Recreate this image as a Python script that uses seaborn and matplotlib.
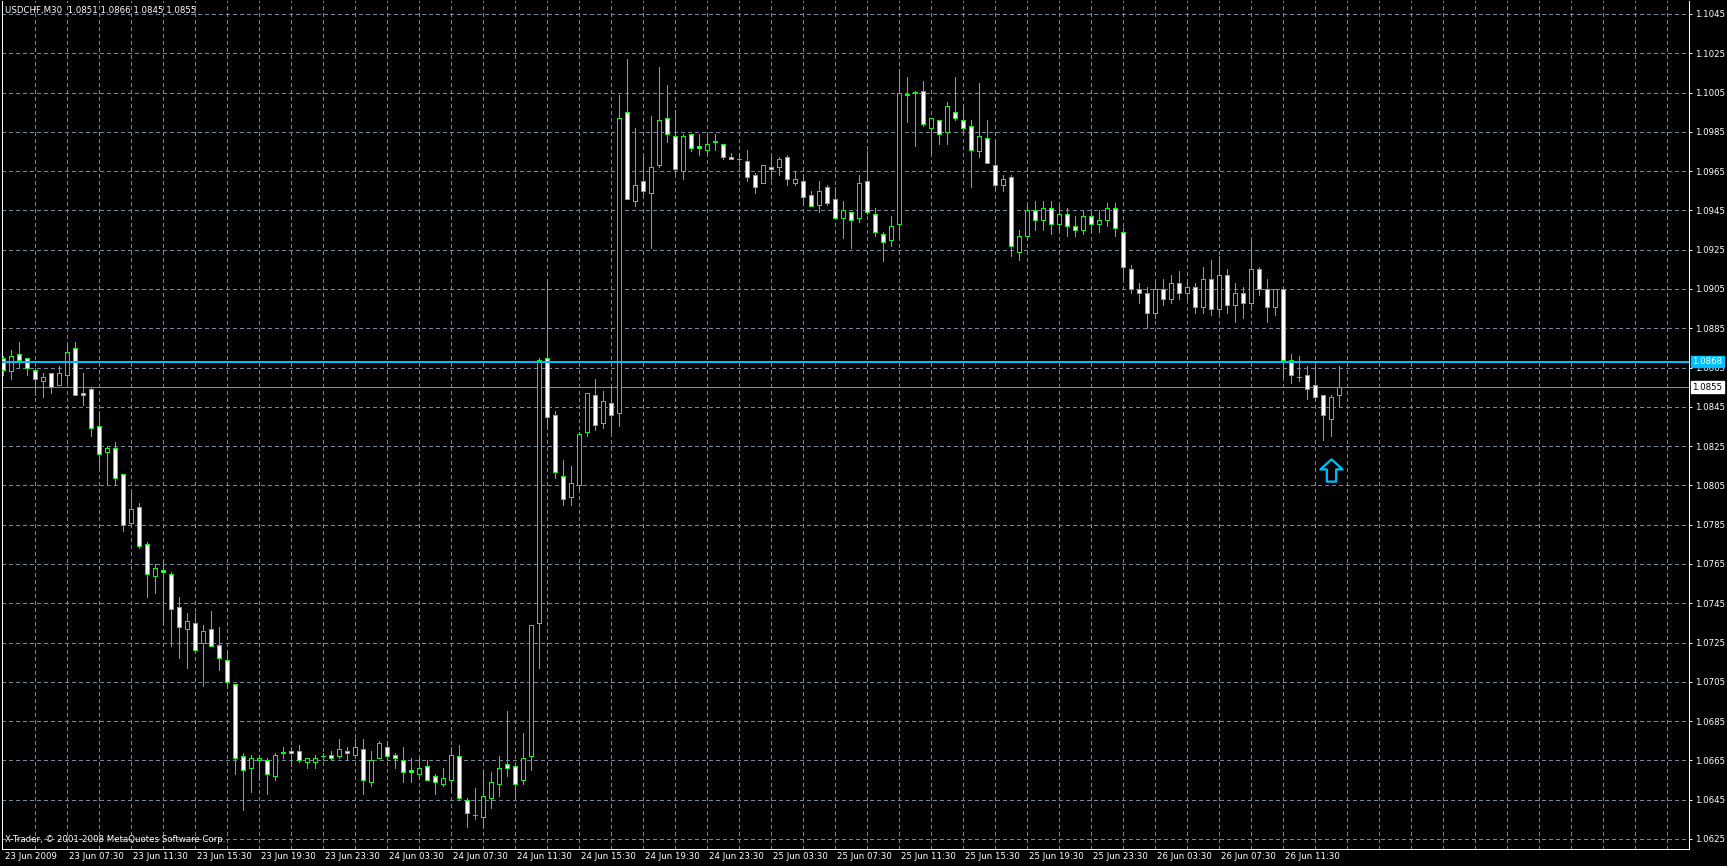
import numpy as np
import pandas as pd
import seaborn as sns
import matplotlib.pyplot as plt
from matplotlib.path import Path

# USDCHF M30 candles, bar 0 = 23 Jun 2009 03:30
opens = [1.0870, 1.0863, 1.0872, 1.0870, 1.0864, 1.0858, 1.0862, 1.0856, 1.0861, 1.0875,
         1.0852, 1.0854, 1.0835, 1.0822, 1.0824, 1.0811, 1.0786, 1.0794, 1.0775, 1.0759,
         1.0762, 1.0760, 1.0743, 1.0732, 1.0735, 1.0725, 1.0732, 1.0724, 1.0716, 1.0704,
         1.0667, 1.0661, 1.0665, 1.0665, 1.0657, 1.0669, 1.0670, 1.0670, 1.0664, 1.0664,
         1.0667, 1.0668, 1.0667, 1.0670, 1.0668, 1.0671, 1.0654, 1.0666, 1.0672, 1.0668,
         1.0665, 1.0660, 1.0658, 1.0662, 1.0657, 1.0653, 1.0655, 1.0667, 1.0645, 1.0637,
         1.0636, 1.0646, 1.0653, 1.0663, 1.0662, 1.0655, 1.0667, 1.0735, 1.0870, 1.0841,
         1.0810, 1.0799, 1.0805, 1.0832, 1.0851, 1.0837, 1.0847, 1.0842, 1.0995, 1.0950,
         1.0960, 1.0954, 1.0968, 1.0992, 1.0983, 1.0965, 1.0984, 1.0978, 1.0976, 1.0980,
         1.0979, 1.0972, 1.0971, 1.0970, 1.0963, 1.0959, 1.0967, 1.0967, 1.0972, 1.0959,
         1.0960, 1.0953, 1.0948, 1.0957, 1.0951, 1.0941, 1.0944, 1.0941, 1.0960, 1.0943,
         1.0933, 1.0930, 1.0938, 1.1004, 1.1005, 1.1006, 1.0987, 1.0991, 1.0985, 1.0995,
         1.0991, 1.0988, 1.0975, 1.0982, 1.0968, 1.0958, 1.0962, 1.0924, 1.0932, 1.0945,
         1.0940, 1.0946, 1.0938, 1.0943, 1.0937, 1.0935, 1.0942, 1.0938, 1.0940, 1.0946,
         1.0934, 1.0915, 1.0905, 1.0903, 1.0893, 1.0905, 1.0900, 1.0908, 1.0903, 1.0906,
         1.0896, 1.0910, 1.0895, 1.0912, 1.0897, 1.0903, 1.0898, 1.0915, 1.0905, 1.0896,
         1.0905, 1.0869, 1.0860, 1.0861, 1.0856, 1.0851, 1.0839, 1.0851]
highs = [1.0871, 1.0874, 1.0878, 1.0870, 1.0865, 1.0862, 1.0862, 1.0866, 1.0877, 1.0878,
         1.0862, 1.0855, 1.0843, 1.0825, 1.0827, 1.0811, 1.0801, 1.0796, 1.0776, 1.0765,
         1.0767, 1.0761, 1.0748, 1.0740, 1.0740, 1.0734, 1.0741, 1.0733, 1.0721, 1.0704,
         1.0669, 1.0668, 1.0668, 1.0666, 1.0669, 1.0672, 1.0672, 1.0673, 1.0666, 1.0668,
         1.0669, 1.0670, 1.0676, 1.0672, 1.0676, 1.0676, 1.0670, 1.0675, 1.0675, 1.0669,
         1.0672, 1.0666, 1.0666, 1.0665, 1.0658, 1.0661, 1.0672, 1.0673, 1.0646, 1.0651,
         1.0660, 1.0659, 1.0667, 1.0690, 1.0662, 1.0679, 1.0734, 1.0870, 1.0910, 1.0843,
         1.0818, 1.0815, 1.0832, 1.0852, 1.0859, 1.0853, 1.0855, 1.1004, 1.1022, 1.0987,
         1.0972, 1.0993, 1.1018, 1.1009, 1.0996, 1.0984, 1.0984, 1.0984, 1.0983, 1.0984,
         1.0979, 1.0974, 1.0974, 1.0976, 1.0964, 1.0968, 1.0972, 1.0972, 1.0973, 1.0965,
         1.0962, 1.0955, 1.0960, 1.0958, 1.0957, 1.0950, 1.0944, 1.0963, 1.0975, 1.0946,
         1.0934, 1.0942, 1.1017, 1.1013, 1.1006, 1.1011, 1.0992, 1.0991, 1.1000, 1.1013,
         1.0999, 1.0991, 1.1010, 1.0991, 1.0981, 1.0963, 1.0963, 1.0935, 1.0948, 1.0950,
         1.0950, 1.0950, 1.0948, 1.0946, 1.0942, 1.0945, 1.0944, 1.0945, 1.0949, 1.0949,
         1.0936, 1.0917, 1.0908, 1.0906, 1.0908, 1.0910, 1.0912, 1.0914, 1.0910, 1.0908,
         1.0916, 1.0920, 1.0922, 1.0915, 1.0908, 1.0906, 1.0930, 1.0916, 1.0910, 1.0898,
         1.0906, 1.0872, 1.0871, 1.0866, 1.0866, 1.0851, 1.0851, 1.0866]
lows = [1.0861, 1.0859, 1.0865, 1.0861, 1.0851, 1.0850, 1.0852, 1.0856, 1.0857, 1.0851,
        1.0846, 1.0830, 1.0814, 1.0805, 1.0805, 1.0782, 1.0784, 1.0773, 1.0748, 1.0750,
        1.0734, 1.0723, 1.0717, 1.0712, 1.0720, 1.0703, 1.0723, 1.0711, 1.0702, 1.0658,
        1.0640, 1.0649, 1.0655, 1.0648, 1.0655, 1.0666, 1.0662, 1.0664, 1.0661, 1.0661,
        1.0665, 1.0665, 1.0666, 1.0665, 1.0667, 1.0648, 1.0652, 1.0666, 1.0665, 1.0661,
        1.0654, 1.0654, 1.0656, 1.0655, 1.0648, 1.0652, 1.0650, 1.0645, 1.0631, 1.0635,
        1.0631, 1.0641, 1.0647, 1.0657, 1.0646, 1.0653, 1.0660, 1.0712, 1.0834, 1.0809,
        1.0795, 1.0795, 1.0803, 1.0830, 1.0833, 1.0834, 1.0832, 1.0835, 1.0951, 1.0947,
        1.0953, 1.0926, 1.0967, 1.0980, 1.0964, 1.0961, 1.0975, 1.0973, 1.0973, 1.0976,
        1.0971, 1.0971, 1.0968, 1.0960, 1.0954, 1.0959, 1.0961, 1.0963, 1.0958, 1.0958,
        1.0948, 1.0947, 1.0944, 1.0948, 1.0941, 1.0931, 1.0926, 1.0939, 1.0943, 1.0932,
        1.0919, 1.0927, 1.0931, 1.0990, 1.0978, 1.0988, 1.0974, 1.0979, 1.0979, 1.0991,
        1.0985, 1.0957, 1.0972, 1.0969, 1.0957, 1.0955, 1.0922, 1.0920, 1.0930, 1.0935,
        1.0935, 1.0933, 1.0935, 1.0932, 1.0932, 1.0933, 1.0934, 1.0934, 1.0937, 1.0932,
        1.0910, 1.0903, 1.0898, 1.0885, 1.0890, 1.0897, 1.0898, 1.0900, 1.0900, 1.0893,
        1.0893, 1.0892, 1.0893, 1.0893, 1.0888, 1.0890, 1.0896, 1.0902, 1.0888, 1.0892,
        1.0860, 1.0857, 1.0858, 1.0849, 1.0849, 1.0828, 1.0830, 1.0845]
closes = [1.0864, 1.0871, 1.0869, 1.0865, 1.0859, 1.0860, 1.0855, 1.0862, 1.0873, 1.0851,
          1.0851, 1.0834, 1.0821, 1.0824, 1.0809, 1.0785, 1.0793, 1.0774, 1.0760, 1.0763,
          1.0761, 1.0742, 1.0733, 1.0736, 1.0721, 1.0731, 1.0723, 1.0717, 1.0705, 1.0666,
          1.0660, 1.0666, 1.0666, 1.0658, 1.0668, 1.0669, 1.0669, 1.0665, 1.0666, 1.0666,
          1.0667, 1.0666, 1.0671, 1.0669, 1.0672, 1.0655, 1.0665, 1.0674, 1.0667, 1.0666,
          1.0659, 1.0659, 1.0661, 1.0655, 1.0654, 1.0656, 1.0668, 1.0646, 1.0638, 1.0637,
          1.0647, 1.0654, 1.0661, 1.0661, 1.0653, 1.0666, 1.0734, 1.0869, 1.0840, 1.0812,
          1.0798, 1.0806, 1.0831, 1.0852, 1.0836, 1.0848, 1.0841, 1.0992, 1.0951, 1.0958,
          1.0955, 1.0967, 1.0991, 1.0984, 1.0966, 1.0983, 1.0977, 1.0977, 1.0979, 1.0980,
          1.0972, 1.0971, 1.0971, 1.0962, 1.0957, 1.0968, 1.0966, 1.0971, 1.0961, 1.0961,
          1.0952, 1.0947, 1.0955, 1.0949, 1.0941, 1.0945, 1.0940, 1.0959, 1.0944, 1.0934,
          1.0929, 1.0937, 1.1005, 1.1004, 1.1005, 1.0989, 1.0992, 1.0984, 1.0998, 1.0992,
          1.0987, 1.0976, 1.0983, 1.0969, 1.0958, 1.0961, 1.0927, 1.0932, 1.0945, 1.0940,
          1.0946, 1.0938, 1.0943, 1.0937, 1.0935, 1.0942, 1.0938, 1.0940, 1.0946, 1.0936,
          1.0916, 1.0905, 1.0903, 1.0893, 1.0905, 1.0900, 1.0908, 1.0903, 1.0906, 1.0896,
          1.0910, 1.0895, 1.0912, 1.0897, 1.0903, 1.0898, 1.0915, 1.0905, 1.0896, 1.0905,
          1.0869, 1.0861, 1.0860, 1.0854, 1.0850, 1.0841, 1.0850, 1.0855]

time_labels = ["23 Jun 2009", "23 Jun 07:30", "23 Jun 11:30", "23 Jun 15:30", "23 Jun 19:30",
               "23 Jun 23:30", "24 Jun 03:30", "24 Jun 07:30", "24 Jun 11:30", "24 Jun 15:30",
               "24 Jun 19:30", "24 Jun 23:30", "25 Jun 03:30", "25 Jun 07:30", "25 Jun 11:30",
               "25 Jun 15:30", "25 Jun 19:30", "25 Jun 23:30", "26 Jun 03:30", "26 Jun 07:30",
               "26 Jun 11:30"]
price_levels = [round(1.0625 + 0.002 * k, 4) for k in range(22)]
hline_price = 1.0868
bid_price = 1.0855
arrow_bar = 166
arrow_price = 1.0813
title_text = "USDCHF,M30  1.0851 1.0866 1.0845 1.0855"
copyright_text = "X-Trader, \u00a9 2001-2008 MetaQuotes Software Corp."

df = pd.DataFrame({"open": opens, "high": highs, "low": lows, "close": closes})
df["bar"] = np.arange(len(df))
df["bull"] = df["close"] >= df["open"]
df["bottom"] = df[["open", "close"]].min(axis=1)
df["height"] = (df["close"] - df["open"]).abs().clip(lower=0.00002)

sns.set_theme(style="dark", rc={
    "axes.facecolor": "black",
    "figure.facecolor": "black",
    "savefig.facecolor": "black",
    "axes.edgecolor": "white",
    "text.color": "white",
    "xtick.color": "white",
    "ytick.color": "white",
})
plt.rcParams["font.family"] = ["DejaVu Sans"]

W, H = 1727, 866
fig = plt.figure(figsize=(W / 100, H / 100), dpi=100)
ax = fig.add_axes([2 / W, 17 / H, 1687 / W, 848 / H])

lime = "#00ff00"
grid_c = "#778899"
sky = "#00bfff"
px = 0.72  # one pixel in points

# grid
for p in price_levels:
    ax.axhline(p, color=grid_c, lw=px, ls=(0, (4, 3)), zorder=0, antialiased=False)
for b in range(4, 212, 4):
    ax.axvline(b, color=grid_c, lw=px, ls=(0, (4, 3)), zorder=0, antialiased=False)

# candles
ax.vlines(df["bar"], df["low"], df["high"], color=lime, lw=px, zorder=2, antialiased=False)
ax.bar(df["bar"], df["height"], bottom=df["bottom"], width=0.5,
       color=np.where(df["bull"], "black", "white"), edgecolor=lime, linewidth=px, zorder=3,
       antialiased=False)

# price lines
ax.axhline(hline_price, color=sky, lw=1.3, zorder=4, antialiased=False)
ax.axhline(bid_price, color="#8c8c8c", lw=px, zorder=1, antialiased=False)

# arrow marker
arrow = Path([(0, 1), (1, 0.1), (0.42, 0.1), (0.42, -1), (-0.42, -1), (-0.42, 0.1), (-1, 0.1), (0, 1)],
             [Path.MOVETO] + [Path.LINETO] * 6 + [Path.CLOSEPOLY])
ax.plot([arrow_bar], [arrow_price], marker=arrow, markersize=16, mfc="none", mec=sky, mew=1.6, zorder=5)

ax.set_xlim(-0.125, 210.75)
ax.set_ylim(1.06199, 1.10516)

# axes, ticks
for s in ax.spines.values():
    s.set_color("white")
    s.set_linewidth(px)
    s.set_antialiased(False)
ax.spines["top"].set_visible(False)
ax.yaxis.tick_right()
ax.set_yticks(price_levels)
ax.set_yticklabels([f"{p:.4f}" for p in price_levels], fontsize=6.2, color="white")
ax.tick_params(axis="y", length=2.5, width=px, pad=1.5, colors="white")
xt = list(range(0, 8 * len(time_labels), 8))
ax.set_xticks(xt)
ax.set_xticklabels([])
ax.tick_params(axis="x", length=4.5, width=px, colors="white", pad=0)
for b, lab in zip(xt, time_labels):
    ax.text(b + 0.3, -0.003, lab, transform=ax.get_xaxis_transform(), ha="left", va="top",
            fontsize=6.2, color="white")

# price labels on the right axis
ax.text(1.002, hline_price, f"{hline_price:.4f}", transform=ax.get_yaxis_transform(), fontsize=6.2,
        color="white", va="center", ha="left", zorder=6,
        bbox=dict(boxstyle="square,pad=0.15", fc=sky, ec=sky))
ax.text(1.002, bid_price, f"{bid_price:.4f}", transform=ax.get_yaxis_transform(), fontsize=6.2,
        color="black", va="center", ha="left", zorder=6,
        bbox=dict(boxstyle="square,pad=0.15", fc="white", ec="white"))

ax.text(0.002, 0.994, title_text, transform=ax.transAxes, fontsize=6.2, color="white", va="top", ha="left")
ax.text(0.002, 0.006, copyright_text, transform=ax.transAxes, fontsize=6.2, color="white", va="bottom", ha="left")

fig.savefig("out.png", dpi=100, facecolor="black")
